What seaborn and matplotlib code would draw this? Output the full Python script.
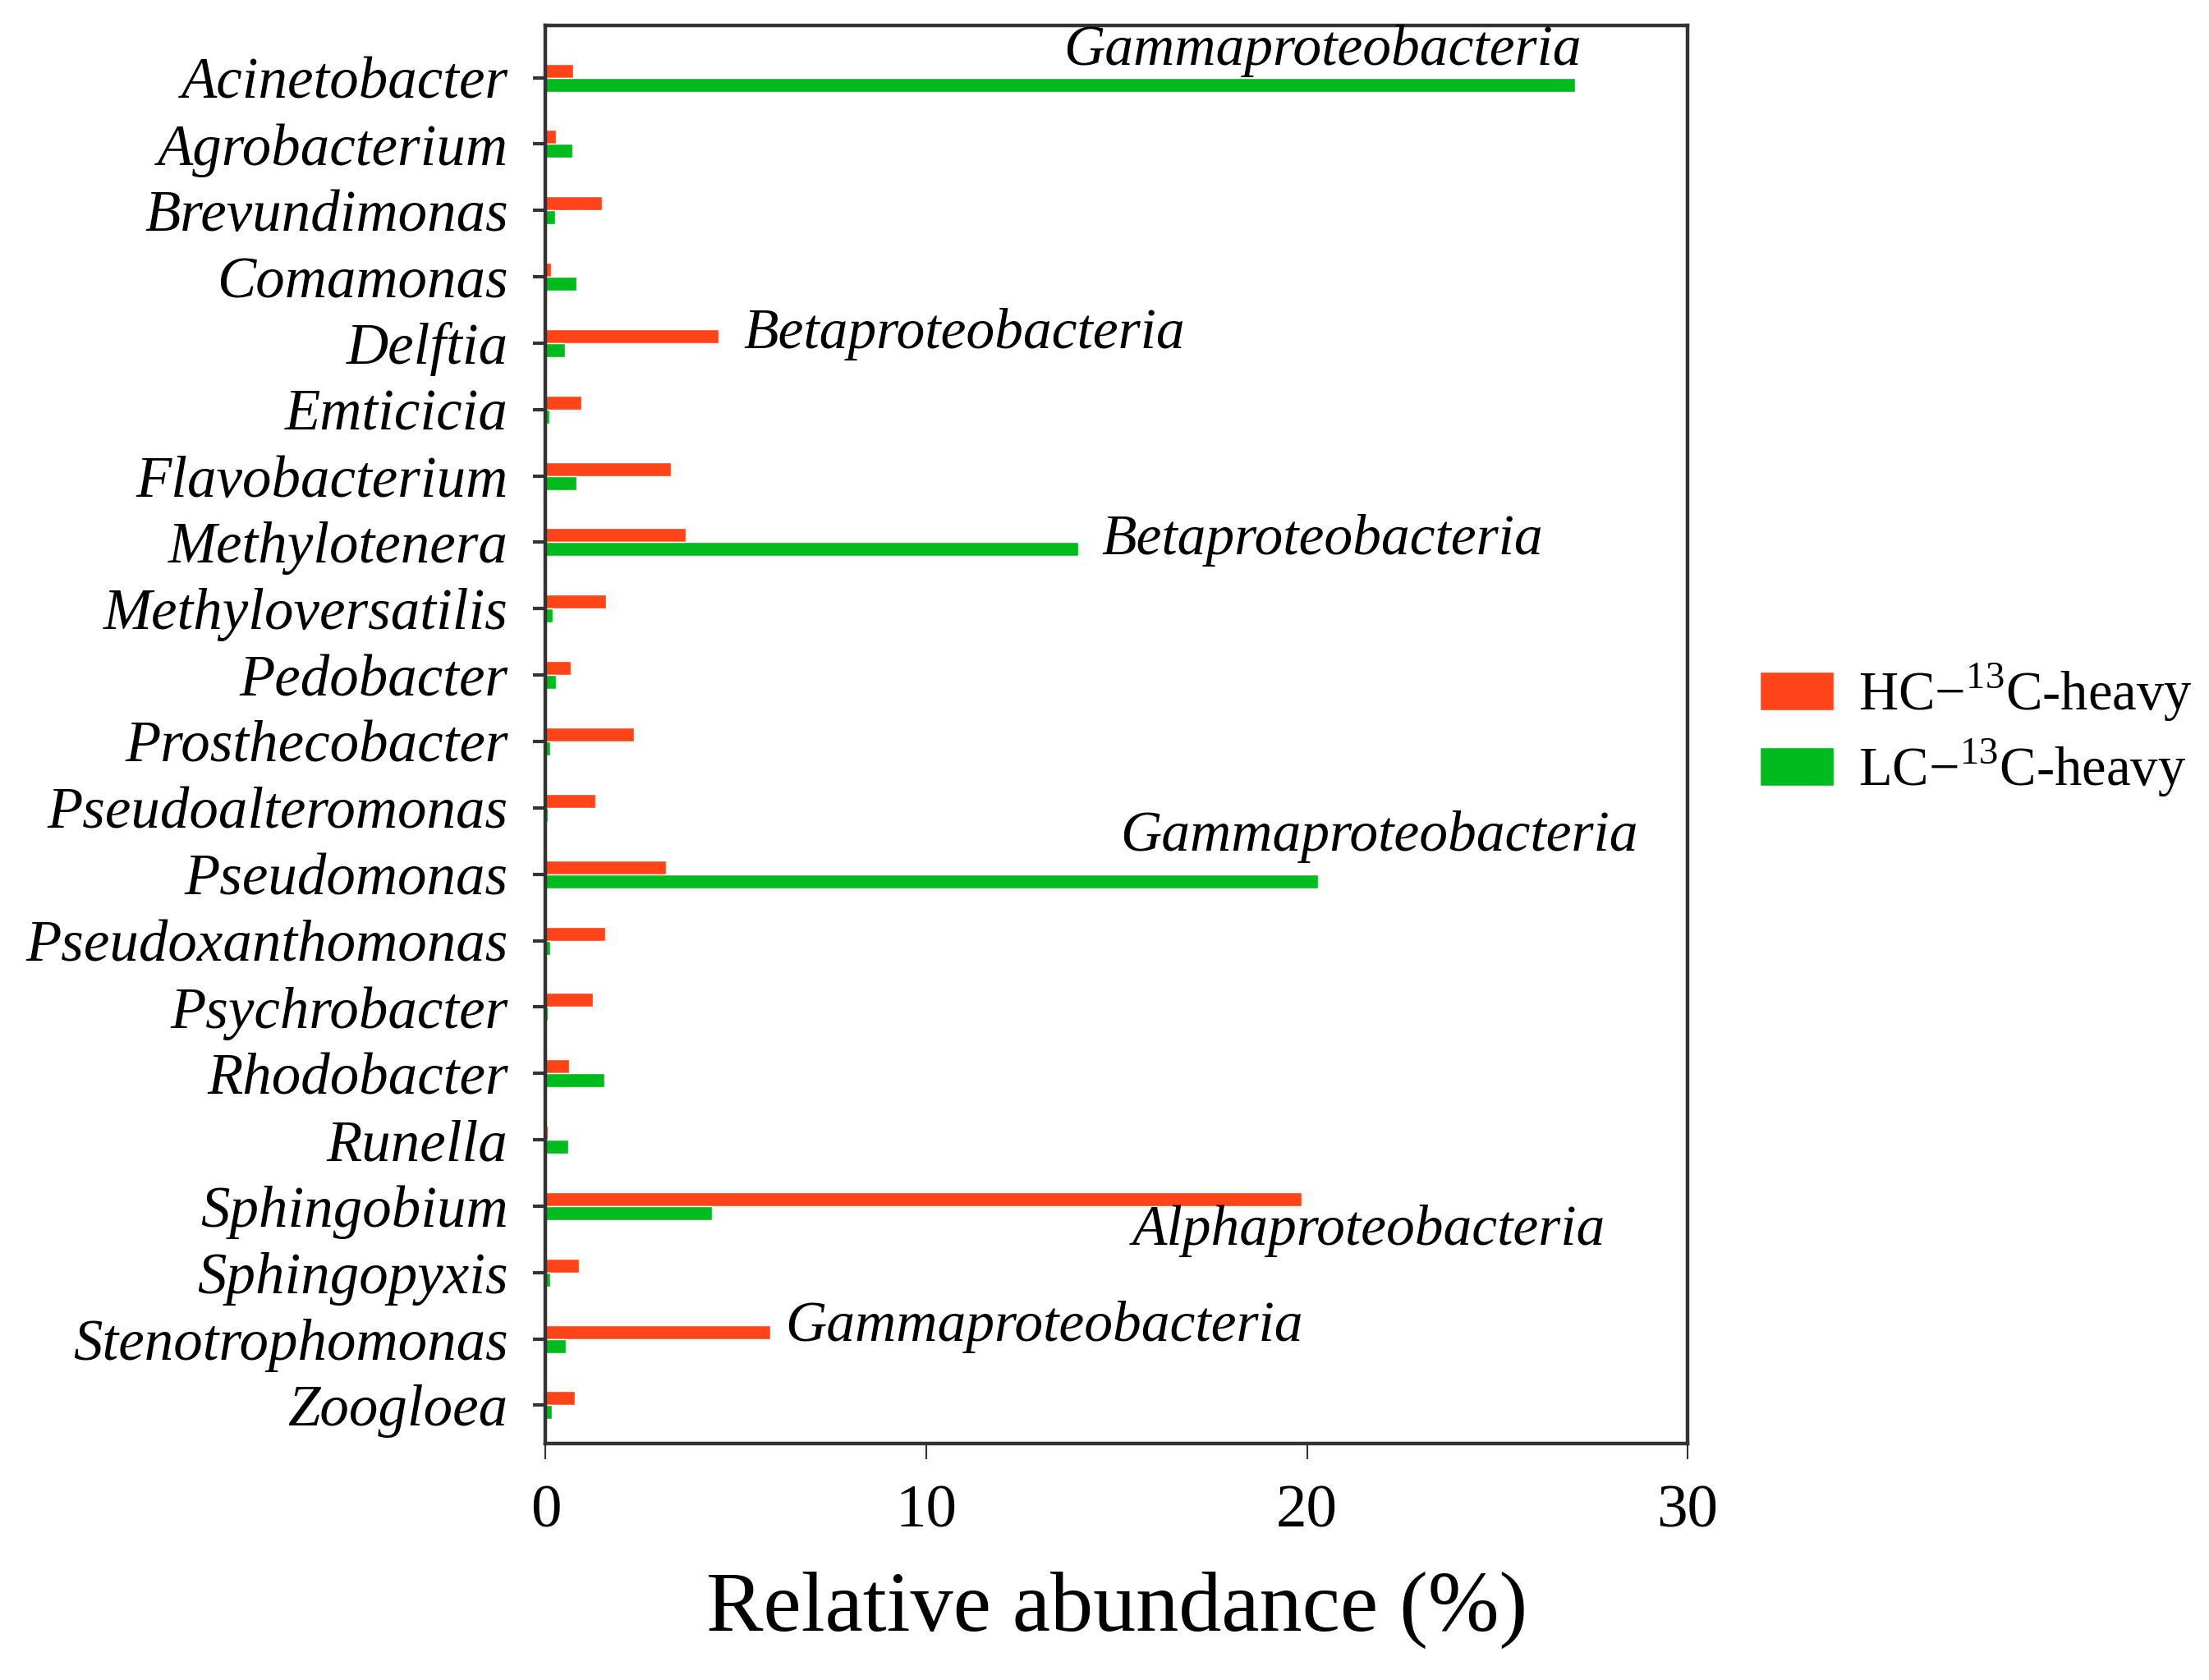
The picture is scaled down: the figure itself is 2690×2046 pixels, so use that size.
import pandas as pd
import matplotlib
matplotlib.use('Agg')
import matplotlib.pyplot as plt
import seaborn as sns

genera = ['Acinetobacter', 'Agrobacterium', 'Brevundimonas', 'Comamonas', 'Delftia',
          'Emticicia', 'Flavobacterium', 'Methylotenera', 'Methyloversatilis', 'Pedobacter',
          'Prosthecobacter', 'Pseudoalteromonas', 'Pseudomonas', 'Pseudoxanthomonas',
          'Psychrobacter', 'Rhodobacter', 'Runella', 'Sphingobium', 'Sphingopyxis',
          'Stenotrophomonas', 'Zoogloea']
hc_heavy = [0.73, 0.27, 1.47, 0.14, 4.54, 0.95, 3.30, 3.67, 1.58, 0.65, 2.33,
            1.31, 3.16, 1.56, 1.25, 0.61, 0.05, 19.85, 0.87, 5.90, 0.76]
lc_heavy = [27.05, 0.70, 0.25, 0.82, 0.50, 0.10, 0.82, 14.0, 0.18, 0.28, 0.11,
            0.05, 20.3, 0.13, 0.05, 1.55, 0.60, 4.36, 0.13, 0.54, 0.16]
groups = ['HC\u2212$^{13}$C-heavy', 'LC\u2212$^{13}$C-heavy']

# class labels next to the big bars: (text, x, y)
notes = [('Gammaproteobacteria', 13.6, -0.4),
         ('Betaproteobacteria', 5.2, 3.87),
         ('Betaproteobacteria', 14.6, 6.97),
         ('Gammaproteobacteria', 15.1, 11.43),
         ('Alphaproteobacteria', 15.4, 17.37),
         ('Gammaproteobacteria', 6.3, 18.82)]

df = pd.DataFrame({'genus': genera * 2,
                   'value': hc_heavy + lc_heavy,
                   'group': [groups[0]] * len(genera) + [groups[1]] * len(genera)})

sns.set_style('white')
plt.rcParams['font.family'] = ['Liberation Serif', 'DejaVu Serif']
plt.rcParams['mathtext.fontset'] = 'custom'
plt.rcParams['mathtext.rm'] = 'Liberation Serif'
plt.rcParams['text.color'] = 'black'
plt.rcParams['xtick.color'] = 'black'
plt.rcParams['ytick.color'] = 'black'
plt.rcParams['axes.labelcolor'] = 'black'

fig = plt.figure(figsize=(26.9, 20.46), dpi=100)
ax = fig.add_axes([0.247, 0.141, 0.517, 0.844])

sns.barplot(data=df, y='genus', x='value', hue='group', orient='h', width=0.42,
            palette=['#FF4419', '#00BB1E'], saturation=1, ax=ax)

ax.set_xlim(0, 30)
ax.set_xticks([0, 10, 20, 30])
ax.set_ylim(20.57, -0.79)

for s in ax.spines.values():
    s.set_visible(True)
    s.set_color('#333333')
    s.set_linewidth(3.2)

ax.tick_params(axis='y', left=True, length=11, width=3, color='#333333', pad=22, labelsize=51)
ax.tick_params(axis='x', bottom=True, length=14, width=1.5, color='#333333', pad=22, labelsize=54)
for lab in ax.get_yticklabels():
    lab.set_fontstyle('italic')

ax.set_ylabel('')
ax.set_xlabel('Relative abundance (%)', fontsize=75, labelpad=28)

for txt, x, y in notes:
    ax.text(x, y, txt, fontsize=50, style='italic', ha='left', va='center')

ax.legend(loc='center left', bbox_to_anchor=(1.02, 0.503), frameon=False, fontsize=48,
          handlelength=1.35, handleheight=0.72, labelspacing=0.25, handletextpad=0.45)

plt.savefig('out.png', dpi=100)
